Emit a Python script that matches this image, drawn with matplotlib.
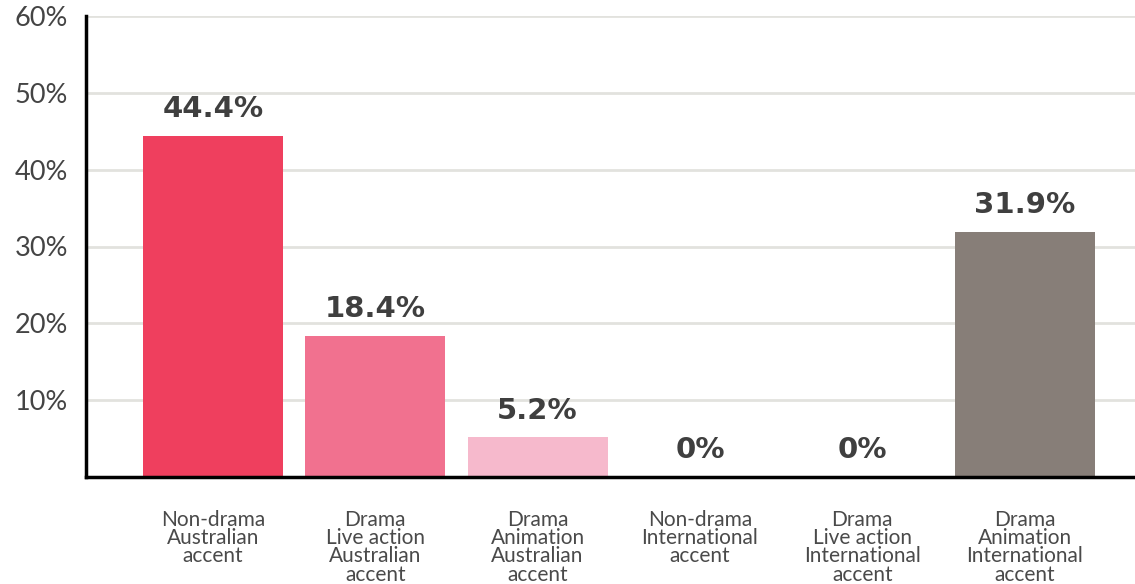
import matplotlib.pyplot as plt
from matplotlib.ticker import FuncFormatter

# --- Données ---
categories = [
    "Non-drama\nAustralian\naccent",
    "Drama\nLive action\nAustralian\naccent",
    "Drama\nAnimation\nAustralian\naccent",
    "Non-drama\nInternational\naccent",
    "Drama\nLive action\nInternational\naccent",
    "Drama\nAnimation\nInternational\naccent",
]
shares = [44.4, 18.4, 5.2, 0, 0, 31.9]
value_labels = ["44.4%", "18.4%", "5.2%", "0%", "0%", "31.9%"]
bar_colors = ["#EF3F5E", "#F1718F", "#F6B9CC", "#F6B9CC", "#877E78", "#877E78"]
y_ticks = [10, 20, 30, 40, 50, 60]

fig = plt.figure(figsize=(11.35, 5.84), dpi=100)
ax = fig.add_axes([86 / 1135, (584 - 477) / 584, 1 - 86 / 1135, (477 - 16) / 584])

x = list(range(len(categories)))
ax.bar(x, shares, width=0.863, color=bar_colors, zorder=3)

# étiquettes de valeur au-dessus des barres
for xi, val, lab in zip(x, shares, value_labels):
    ax.annotate(lab, (xi, val), xytext=(0, 9), textcoords="offset points",
                ha="center", va="bottom", fontsize=21, fontweight="bold",
                color="#3f3f3f", family="DejaVu Sans", zorder=4)

ax.set_xlim(-0.782, 5.68)
ax.set_ylim(0, 60)
ax.set_yticks(y_ticks)
ax.yaxis.set_major_formatter(FuncFormatter(lambda v, p: f"{v:.0f}%"))
ax.set_xticks(x)
ax.set_xticklabels(categories, fontsize=15, color="#4a4a4a", family="Lato",
                   linespacing=0.88, va="top")

ax.tick_params(axis="y", length=0, pad=13, labelsize=19.5, labelcolor="#444444")
ax.tick_params(axis="x", length=0, pad=24)
for t in ax.get_yticklabels():
    t.set_family("Lato")

ax.grid(axis="y", color="#e2e2de", linewidth=2, zorder=0)
ax.set_axisbelow(True)
for side in ["top", "right"]:
    ax.spines[side].set_visible(False)
for side in ["left", "bottom"]:
    ax.spines[side].set_linewidth(2.5)
    ax.spines[side].set_color("black")
    ax.spines[side].set_zorder(5)

fig.savefig("out.png", dpi=100)
